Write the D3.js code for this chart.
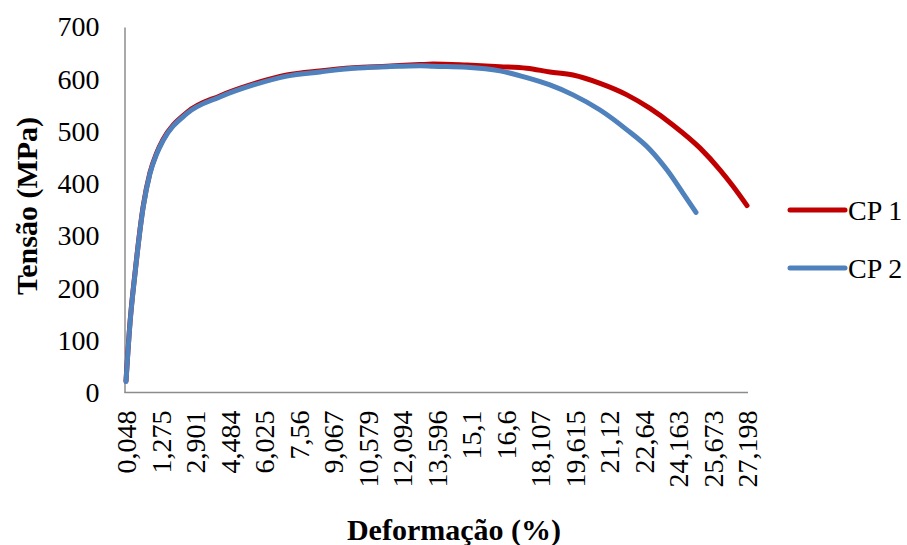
<!DOCTYPE html>
<html>
<head>
<meta charset="utf-8">
<script src="https://cdn.jsdelivr.net/npm/d3@7"></script>
<style>
  body { margin: 0; background: #fff; }
  svg text { font-family: "Liberation Serif", "Times New Roman", serif; fill: #000; }
</style>
</head>
<body>
<div id="chart"></div>
<script>
// tick labels shown on the category axis (strain, %)
const strainTicks = [0.048, 1.275, 2.901, 4.484, 6.025, 7.56, 9.067, 10.579, 12.094, 13.596,
                     15.1, 16.6, 18.107, 19.615, 21.12, 22.64, 24.163, 25.673, 27.198];
const stressTicks = [0, 100, 200, 300, 400, 500, 600, 700];

// CP 1 readings
const strainCP1 = [0.048, 0.19, 0.37, 0.66, 0.90, 1.14, 1.39, 2.51, 4.04, 5.55, 7.04, 8.49, 9.96,
                   11.43, 12.88, 13.44, 14.92, 16.36, 17.53, 18.54, 19.55, 20.73, 21.91, 22.93,
                   23.95, 25.13, 26.01, 26.58, 27.198];
const stressCP1 = [22, 134, 230, 357, 421, 459, 484, 536, 568, 591, 608, 616, 622,
                   625, 628, 629, 627, 624, 621, 614, 608, 592, 570, 544,
                   512, 468, 426, 395, 358];

// CP 2 readings
const strainCP2 = [0.048, 0.19, 0.37, 0.66, 0.90, 1.14, 1.39, 2.51, 4.04, 5.55, 7.04, 8.49, 9.96,
                   11.43, 12.88, 13.44, 14.92, 16.36, 17.53, 18.54, 19.55, 20.73, 21.91, 22.93,
                   23.68, 24.38, 24.95];
const stressCP2 = [21, 132, 228, 355, 419, 457, 482, 534, 566, 589, 606, 614, 621,
                   624, 626, 625, 623, 616, 603, 589, 570, 541, 503, 465,
                   426, 382, 345];

const seriesNames = ['CP 1', 'CP 2'];
const colors = ['#C00000', '#4F81BD'];

const width = 907, height = 545;
const plotLeft = 124.5, plotRight = 748, plotTop = 27, plotBottom = 392.5;
const firstTick = 126, lastTick = 747;
const serif = '"Liberation Serif", "Times New Roman", serif';

const svg = d3.select('#chart').append('svg')
    .attr('width', width)
    .attr('height', height);

// category-style axis: labels evenly spaced
const step = (lastTick - firstTick) / (strainTicks.length - 1);
const x = d3.scaleLinear()
    .domain(strainTicks)
    .range(strainTicks.map((d, i) => firstTick + i * step));

const y = d3.scaleLinear()
    .domain([0, 700])
    .range([plotBottom, plotTop]);

const fmt = v => String(v).replace('.', ',');

// axes
const yAxis = svg.append('g')
    .attr('transform', `translate(${plotLeft},0)`)
    .call(d3.axisLeft(y).tickValues(stressTicks).tickSize(0).tickPadding(25));
yAxis.attr('font-family', serif).attr('font-size', 28);
yAxis.select('.domain').attr('stroke', '#8c8c8c').attr('stroke-width', 1.5);

const xAxis = svg.append('g')
    .attr('transform', `translate(0,${plotBottom})`)
    .call(d3.axisBottom(x).tickValues(strainTicks).tickSize(0).tickFormat(fmt));
xAxis.attr('font-family', serif).attr('font-size', 28);
xAxis.select('.domain')
    .attr('d', `M${plotLeft},0H${plotRight}`)
    .attr('stroke', '#8c8c8c').attr('stroke-width', 1.5);
xAxis.selectAll('text')
    .attr('text-anchor', 'end')
    .attr('transform', 'rotate(-90)')
    .attr('x', -18)
    .attr('y', 0)
    .attr('dy', '0.35em');

// lines
const line = d3.line()
    .x(d => x(d[0]))
    .y(d => y(d[1]))
    .curve(d3.curveMonotoneX);

const series = [
    d3.zip(strainCP1, stressCP1),
    d3.zip(strainCP2, stressCP2)
];

svg.selectAll('path.serie')
    .data(series)
    .enter()
    .append('path')
    .attr('class', 'serie')
    .attr('d', line)
    .attr('fill', 'none')
    .attr('stroke', (d, i) => colors[i])
    .attr('stroke-width', 5)
    .attr('stroke-linecap', 'round')
    .attr('stroke-linejoin', 'round');

// legend
const legend = svg.selectAll('g.legend')
    .data(seriesNames)
    .enter()
    .append('g')
    .attr('class', 'legend')
    .attr('transform', (d, i) => `translate(790,${210 + i * 58})`);

legend.append('line')
    .attr('x1', 0).attr('x2', 55)
    .attr('stroke', (d, i) => colors[i])
    .attr('stroke-width', 5)
    .attr('stroke-linecap', 'round');

legend.append('text')
    .attr('x', 58)
    .attr('dy', '0.35em')
    .style('font-size', '28px')
    .text(d => d);

// axis titles
svg.append('text')
    .attr('x', 454)
    .attr('y', 540)
    .attr('text-anchor', 'middle')
    .style('font-size', '30px')
    .style('font-weight', 'bold')
    .text('Deformação (%)');

svg.append('text')
    .attr('transform', 'translate(37,206) rotate(-90)')
    .attr('text-anchor', 'middle')
    .style('font-size', '30px')
    .style('font-weight', 'bold')
    .text('Tensão (MPa)');
</script>
</body>
</html>
